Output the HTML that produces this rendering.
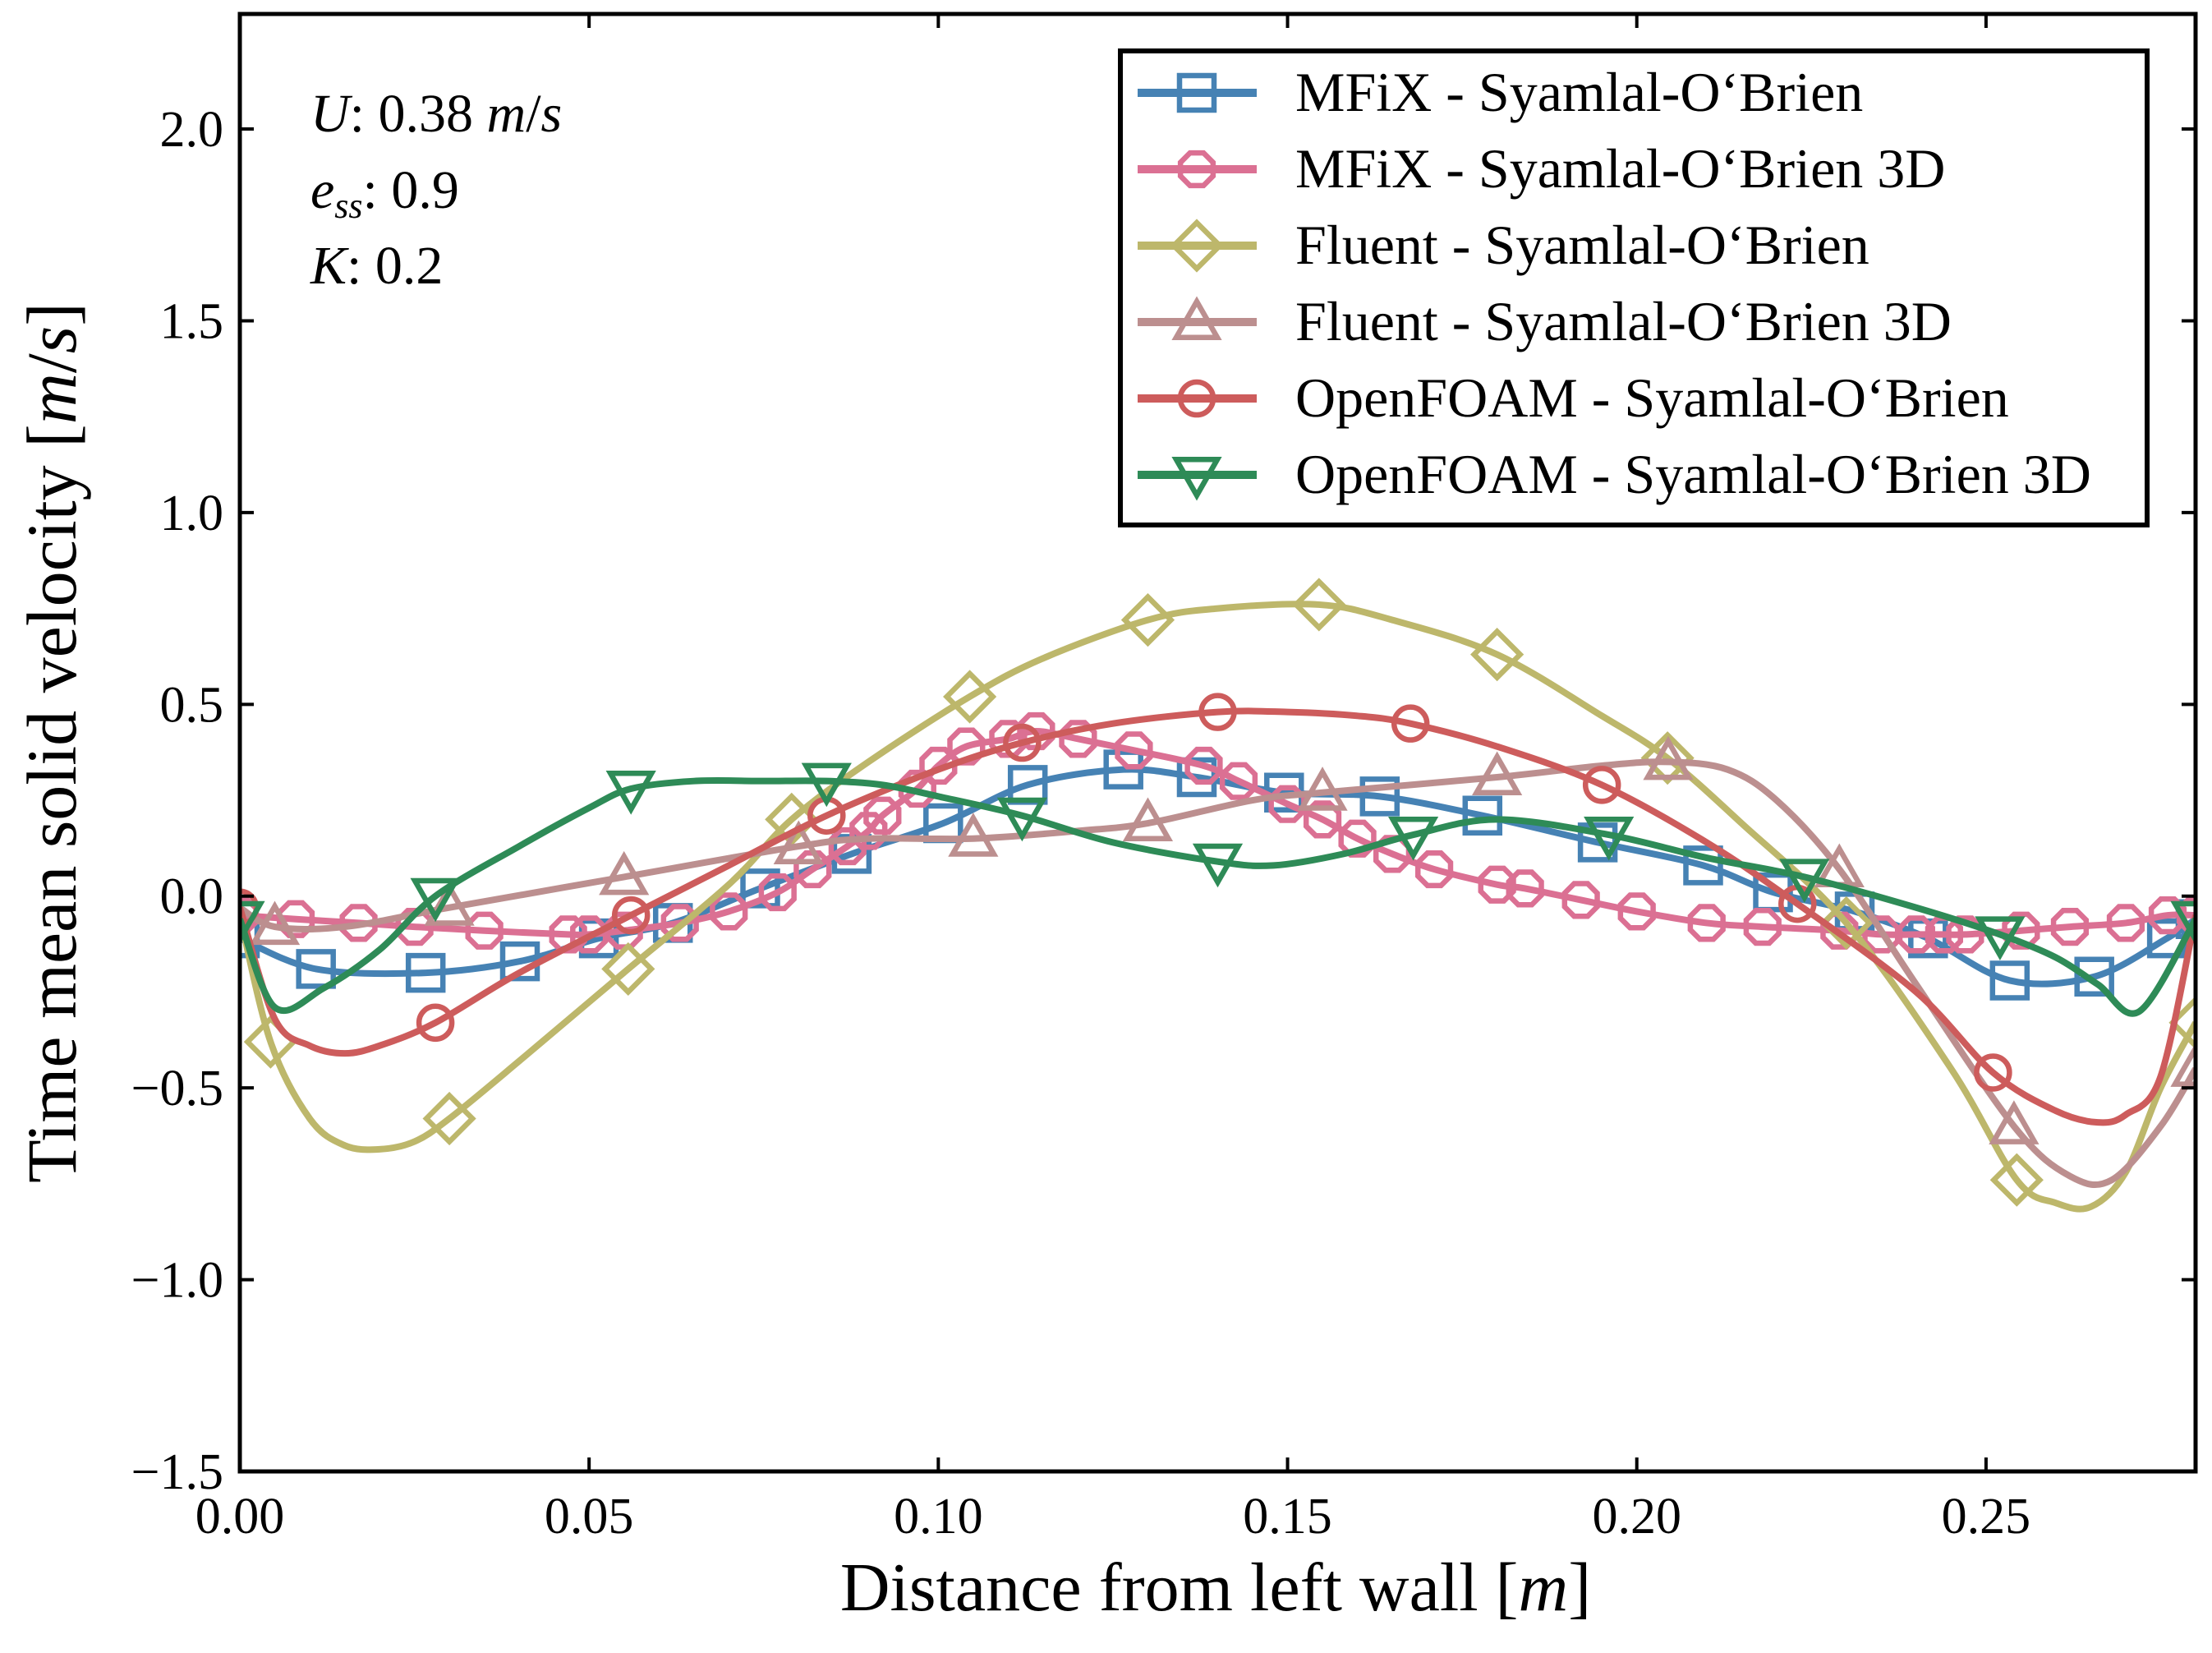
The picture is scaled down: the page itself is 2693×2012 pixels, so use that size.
<!DOCTYPE html>
<html><head><meta charset="utf-8"><style>
html,body{margin:0;padding:0;background:#fff}
svg{display:block}
text{font-family:"Liberation Serif",serif;fill:#000}
</style></head><body>
<svg id="chart" width="2693" height="2012" viewBox="0 0 2693 2012" xmlns="http://www.w3.org/2000/svg">
<defs><clipPath id="plotclip"><rect x="292" y="17" width="2381" height="1774"/></clipPath></defs>
<g id="grid-layer"></g>
<g id="series-layer" clip-path="url(#plotclip)"></g>
<g id="axis-layer"></g>
<g font-size="66">
<text x="378" y="160"><tspan font-style="italic">U</tspan>: 0.38 <tspan font-style="italic">m</tspan>/<tspan font-style="italic">s</tspan></text>
<text x="378" y="253"><tspan font-style="italic">e</tspan><tspan font-style="italic" font-size="44" dy="12">ss</tspan><tspan dy="-12">: 0.9</tspan></text>
<text x="378" y="345"><tspan font-style="italic">K</tspan>: 0.2</text>
</g>
<text x="1480" y="1960" font-size="84" text-anchor="middle">Distance from left wall [<tspan font-style="italic">m</tspan>]</text>
<text transform="translate(92,904) rotate(-90)" font-size="86" text-anchor="middle">Time mean solid velocity [<tspan font-style="italic">m</tspan>/<tspan font-style="italic">s</tspan>]</text>
<g id="legend"></g>
</svg>
<script>
const xTicks = [0, 0.05, 0.10, 0.15, 0.20, 0.25];
const xTickLabels = ["0.00","0.05","0.10","0.15","0.20","0.25"];
const yTicks = [-1.5, -1.0, -0.5, 0.0, 0.5, 1.0, 1.5, 2.0];
const yTickLabels = ["\u22121.5","\u22121.0","\u22120.5","0.0","0.5","1.0","1.5","2.0"];
const seriesNames = ["MFiX - Syamlal-O\u2018Brien","MFiX - Syamlal-O\u2018Brien 3D","Fluent - Syamlal-O\u2018Brien","Fluent - Syamlal-O\u2018Brien 3D","OpenFOAM - Syamlal-O\u2018Brien","OpenFOAM - Syamlal-O\u2018Brien 3D"];

const mfixX = [0,0.0109,0.0266,0.0401,0.0514,0.0620,0.0745,0.0876,0.1007,0.1128,0.1265,0.1370,0.1495,0.1632,0.1779,0.1944,0.2095,0.2195,0.2312,0.2417,0.2534,0.2655,0.2759,0.28];
const mfixY = [-0.11,-0.19,-0.20,-0.17,-0.11,-0.07,0.02,0.11,0.19,0.29,0.33,0.31,0.27,0.26,0.21,0.14,0.08,0.01,-0.04,-0.11,-0.22,-0.21,-0.11,-0.06];
const mfixMarks = [0,1,2,3,4,5,6,7,8,9,10,11,12,13,14,15,16,17,18,19,20,21,22,23];

const mfix3dX = [0,0.008,0.017,0.025,0.035,0.047,0.050,0.055,0.063,0.070,0.077,0.082,0.087,0.090,0.092,0.097,0.100,0.104,0.110,0.114,0.120,0.128,0.138,0.143,0.150,0.155,0.160,0.165,0.171,0.180,0.184,0.192,0.200,0.210,0.218,0.229,0.235,0.240,0.244,0.247,0.255,0.262,0.270,0.276,0.28];
const mfix3dY = [-0.05,-0.06,-0.07,-0.08,-0.09,-0.10,-0.10,-0.09,-0.07,-0.04,0.01,0.07,0.13,0.17,0.21,0.28,0.34,0.39,0.41,0.43,0.41,0.38,0.34,0.30,0.24,0.20,0.15,0.11,0.07,0.03,0.02,-0.01,-0.04,-0.07,-0.08,-0.09,-0.10,-0.10,-0.10,-0.10,-0.09,-0.08,-0.07,-0.05,-0.05];
const mfix3dMarks = [0,1,2,3,4,5,6,7,8,9,10,11,12,13,14,15,16,17,18,19,20,21,22,23,24,25,26,27,28,29,30,31,32,33,34,35,36,37,38,39,40,41,42,43,44];

const fluentX = [0,0.0044,0.010,0.015,0.020,0.025,0.030,0.040,0.0556,0.070,0.079,0.090,0.1045,0.115,0.130,0.140,0.1545,0.165,0.180,0.195,0.2044,0.215,0.230,0.245,0.2544,0.260,0.265,0.270,0.275,0.28];
const fluentY = [-0.05,-0.38,-0.58,-0.65,-0.66,-0.64,-0.58,-0.43,-0.19,0.03,0.20,0.35,0.52,0.62,0.72,0.75,0.76,0.72,0.63,0.47,0.36,0.19,-0.07,-0.45,-0.74,-0.80,-0.81,-0.72,-0.50,-0.33];
const fluentMarks = [1,6,8,10,12,14,16,18,20,22,24,29];

const fluent3dX = [0,0.005,0.015,0.030,0.055,0.080,0.090,0.105,0.120,0.130,0.145,0.155,0.180,0.195,0.2045,0.213,0.220,0.229,0.240,0.254,0.262,0.268,0.275,0.28];
const fluent3dY = [-0.03,-0.08,-0.08,-0.03,0.05,0.13,0.15,0.15,0.17,0.19,0.25,0.27,0.31,0.34,0.35,0.33,0.25,0.07,-0.23,-0.60,-0.73,-0.74,-0.60,-0.45];
const fluent3dMarks = [1,3,4,5,7,9,11,12,14,17,19,23];

const ofX = [0,0.005,0.010,0.015,0.020,0.028,0.040,0.056,0.070,0.084,0.100,0.112,0.125,0.140,0.150,0.160,0.1676,0.180,0.195,0.210,0.223,0.240,0.251,0.260,0.266,0.270,0.275,0.28];
const ofY = [-0.03,-0.32,-0.39,-0.41,-0.39,-0.33,-0.20,-0.05,0.08,0.21,0.33,0.40,0.45,0.48,0.48,0.47,0.45,0.39,0.29,0.14,-0.02,-0.25,-0.46,-0.56,-0.59,-0.57,-0.47,-0.05];
const ofMarks = [0,5,7,9,11,13,16,18,20,22];

const of3dX = [0,0.005,0.012,0.020,0.028,0.040,0.050,0.056,0.065,0.075,0.084,0.092,0.100,0.112,0.125,0.140,0.148,0.158,0.168,0.180,0.196,0.210,0.224,0.240,0.252,0.260,0.266,0.272,0.28];
const of3dY = [-0.06,-0.29,-0.24,-0.14,0.00,0.13,0.23,0.28,0.30,0.30,0.30,0.29,0.26,0.21,0.14,0.09,0.08,0.11,0.16,0.20,0.16,0.10,0.05,-0.03,-0.10,-0.16,-0.23,-0.30,-0.06];
const of3dMarks = [0,4,7,10,13,15,18,20,22,24,28];

const X0=292, X1=2673, Y0=17, Y1=1791, XMIN=0, XMAX=0.28, YMIN=-1.5, YMAX=2.3;
function sx(v){return X0+(v-XMIN)/(XMAX-XMIN)*(X1-X0);}
function sy(v){return Y1-(v-YMIN)/(YMAX-YMIN)*(Y1-Y0);}
const NS="http://www.w3.org/2000/svg";
function mk(tag,attrs,parent){const e=document.createElementNS(NS,tag);for(const k in attrs)e.setAttribute(k,attrs[k]);parent.appendChild(e);return e;}

const series = [
 {x:mfixX,y:mfixY,m:mfixMarks,c:"#4682B4",s:"square",n:"mfix"},
 {x:mfix3dX,y:mfix3dY,m:mfix3dMarks,c:"#DB7093",s:"octagon",n:"mfix-3d"},
 {x:fluentX,y:fluentY,m:fluentMarks,c:"#BDB76B",s:"diamond",n:"fluent"},
 {x:fluent3dX,y:fluent3dY,m:fluent3dMarks,c:"#BC8F8F",s:"triup",n:"fluent-3d"},
 {x:ofX,y:ofY,m:ofMarks,c:"#CD5C5C",s:"circle",n:"openfoam"},
 {x:of3dX,y:of3dY,m:of3dMarks,c:"#2E8B57",s:"tridown",n:"openfoam-3d"}
];

function markerPath(shape,cx,cy){
 const r=21;
 if(shape==="square") return `M${cx-r},${cy-r}H${cx+r}V${cy+r}H${cx-r}Z`;
 if(shape==="diamond"){const d=28;return `M${cx},${cy-d}L${cx+d},${cy}L${cx},${cy+d}L${cx-d},${cy}Z`;}
 if(shape==="triup"){const d=25;return `M${cx},${cy-d}L${cx+d},${cy+d*0.75}L${cx-d},${cy+d*0.75}Z`;}
 if(shape==="tridown"){const d=25;return `M${cx},${cy+d}L${cx+d},${cy-d*0.75}L${cx-d},${cy-d*0.75}Z`;}
 if(shape==="octagon"){let p="";for(let i=0;i<8;i++){const a=Math.PI/8+i*Math.PI/4;p+=(i?"L":"M")+(cx+21.5*Math.cos(a))+","+(cy+21.5*Math.sin(a));}return p+"Z";}
 return `M${cx-20},${cy}A20,20 0 1,0 ${cx+20},${cy}A20,20 0 1,0 ${cx-20},${cy}Z`;
}
function smoothPath(pts){
 let d=`M${pts[0][0]},${pts[0][1]}`;
 for(let i=0;i<pts.length-1;i++){
  const p0=pts[Math.max(0,i-1)],p1=pts[i],p2=pts[i+1],p3=pts[Math.min(pts.length-1,i+2)];
  const c1=[p1[0]+(p2[0]-p0[0])/6,p1[1]+(p2[1]-p0[1])/6];
  const c2=[p2[0]-(p3[0]-p1[0])/6,p2[1]-(p3[1]-p1[1])/6];
  d+=`C${c1[0]},${c1[1]} ${c2[0]},${c2[1]} ${p2[0]},${p2[1]}`;
 }
 return d;
}

const sl=document.getElementById("series-layer");
series.forEach(s=>{
 const g=mk("g",{},sl);
 
 
 const pts=s.x.map((v,i)=>[sx(v),sy(s.y[i])]);
 const line=mk("path",{d:smoothPath(pts),fill:"none",stroke:s.c,"stroke-width":8,"stroke-linejoin":"round"},g);
 
 
 s.m.forEach(i=>{
  const p=mk("path",{d:markerPath(s.s,sx(s.x[i]),sy(s.y[i])),fill:"none",stroke:s.c,"stroke-width":6.5},g);
  
  
 });
});

const al=document.getElementById("axis-layer");
xTicks.forEach((t,i)=>{
 const x=sx(t);
 const a=mk("line",{x1:x,x2:x,y1:Y1,y2:Y1-17,stroke:"#000","stroke-width":4},al);
 
 
 const b=mk("line",{x1:x,x2:x,y1:Y0,y2:Y0+17,stroke:"#000","stroke-width":4},al);
 
 
 const tx=mk("text",{x:x,y:1866,"font-size":62,"text-anchor":"middle"},al);
 tx.textContent=xTickLabels[i];
 
 
});
yTicks.forEach((t,i)=>{
 const y=sy(t);
 const a=mk("line",{x1:X0,x2:X0+17,y1:y,y2:y,stroke:"#000","stroke-width":4},al);
 
 
 const b=mk("line",{x1:X1,x2:X1-17,y1:y,y2:y,stroke:"#000","stroke-width":4},al);
 
 
 const tx=mk("text",{x:272,y:y+21,"font-size":62,"text-anchor":"end"},al);
 tx.textContent=yTickLabels[i];
 
 
});
const frame=mk("rect",{x:X0,y:Y0,width:X1-X0,height:Y1-Y0,fill:"none",stroke:"#000","stroke-width":5},al);



const lg=document.getElementById("legend");
const box=mk("rect",{x:1364,y:62,width:1250,height:577,fill:"#fff",stroke:"#000","stroke-width":6},lg);


series.forEach((s,i)=>{
 const y=113+93*i;
 const g=mk("g",{},lg);
 
 
 mk("line",{x1:1385,x2:1530,y1:y,y2:y,stroke:s.c,"stroke-width":10},g);
 mk("path",{d:markerPath(s.s,1457,y),fill:"none",stroke:s.c,"stroke-width":6.5},g);
 const t=mk("text",{x:1577,y:y+22,"font-size":68},g);
 t.textContent=seriesNames[i];
});
</script>
</body></html>
